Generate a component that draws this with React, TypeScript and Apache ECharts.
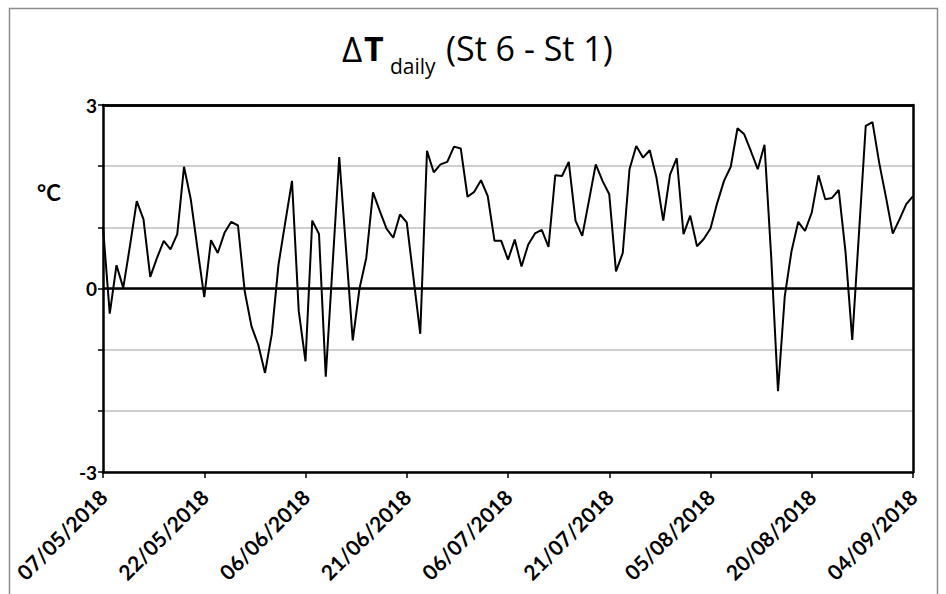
import React, { useEffect, useRef } from "react";
import * as echarts from "echarts";

// Daily temperature difference ΔT (St 6 - St 1), °C, from 07/05/2018 to 04/09/2018
const startDay = "2018-05-07";
const mayValues = [1.0, -0.41, 0.38, 0.01, 0.7, 1.43, 1.13, 0.19, 0.5, 0.78, 0.64, 0.89, 1.99, 1.46, 0.65, -0.14, 0.79, 0.58, 0.91, 1.09, 1.03, -0.05, -0.62, -0.92, -1.38];
const juneValues = [-0.75, 0.39, 1.08, 1.76, -0.37, -1.19, 1.11, 0.89, -1.44, 0.36, 2.15, 0.65, -0.85, 0.0, 0.5, 1.57, 1.27, 0.98, 0.83, 1.21, 1.08, 0.17, -0.74, 2.25, 1.9, 2.03, 2.07, 2.32, 2.29, 1.5];
const julyValues = [1.58, 1.77, 1.51, 0.78, 0.78, 0.47, 0.8, 0.36, 0.72, 0.9, 0.96, 0.68, 1.85, 1.84, 2.07, 1.11, 0.86, 1.44, 2.03, 1.76, 1.54, 0.28, 0.58, 1.95, 2.33, 2.14, 2.26, 1.81, 1.11, 1.86, 2.13];
const augustValues = [0.89, 1.19, 0.69, 0.81, 0.98, 1.4, 1.76, 1.99, 2.62, 2.52, 2.24, 1.95, 2.35, 0.5, -1.68, -0.13, 0.61, 1.09, 0.94, 1.24, 1.85, 1.46, 1.48, 1.61, 0.6, -0.84, 0.91, 2.66, 2.72, 2.05, 1.49];
const septemberValues = [0.9, 1.13, 1.38, 1.51];
const yTickLabels = [-3, 0, 3];
const labelEveryDays = 15;

const values = [...mayValues, ...juneValues, ...julyValues, ...augustValues, ...septemberValues];

function buildDates(start: string, n: number): string[] {
  const t0 = Date.parse(start + "T00:00:00Z");
  const out: string[] = [];
  for (let i = 0; i < n; i++) {
    const d = new Date(t0 + i * 86400000);
    const dd = String(d.getUTCDate()).padStart(2, "0");
    const mm = String(d.getUTCMonth() + 1).padStart(2, "0");
    out.push(`${dd}/${mm}/${d.getUTCFullYear()}`);
  }
  return out;
}
const dates = buildDates(startDay, values.length);

const FONT = "Lato, 'Open Sans', sans-serif";
const TFONT = "'Open Sans', Lato, sans-serif";

export default function App() {
  const ref = useRef<HTMLDivElement>(null);
  useEffect(() => {
    if (!ref.current) return;
    const chart = echarts.init(ref.current, undefined, { renderer: "svg" });
    chart.setOption({
      animation: false,
      backgroundColor: "#ffffff",
      textStyle: { fontFamily: FONT },
      grid: { left: 103, right: 33, top: 105, bottom: 122, containLabel: false },
      graphic: [
        {
          type: "rect",
          shape: { x: 9.5, y: 8.5, width: 928, height: 620 },
          style: { fill: "none", stroke: "#8c8c8c", lineWidth: 1.5 },
          silent: true,
        },
        {
          type: "text",
          left: 342, top: 31,
          style: { text: "Δ", font: `normal 35px ${TFONT}`, fill: "#000" },
        },
        {
          type: "text",
          left: 364, top: 31,
          style: { text: "T", font: `bold 34px ${TFONT}`, fill: "#000" },
        },
        {
          type: "text",
          left: 390, top: 55,
          style: { text: "daily", font: `normal 21px ${TFONT}`, fill: "#000" },
        },
        {
          type: "text",
          left: 446, top: 31,
          style: { text: "(St 6 - St 1)", font: `normal 34px ${TFONT}`, fill: "#000" },
        },
        {
          type: "text",
          left: 37, top: 181,
          style: { text: "°C", font: `bold 22px ${FONT}`, fill: "#000" },
        },
      ],
      xAxis: [
        {
          type: "category",
          data: dates,
          boundaryGap: false,
          position: "bottom",
          axisLine: { show: true, onZero: false, lineStyle: { color: "#000", width: 2.5 } },
          axisTick: { show: true, interval: labelEveryDays - 1, length: 6, lineStyle: { color: "#000", width: 1.5 } },
          axisLabel: {
            interval: labelEveryDays - 1,
            rotate: 45,
            margin: 21,
            fontWeight: "bold",
            fontSize: 21,
            color: "#000",
            fontFamily: FONT,
          },
          splitLine: { show: false },
        },
        {
          type: "category",
          data: dates,
          boundaryGap: false,
          position: "top",
          axisLine: { show: true, onZero: false, lineStyle: { color: "#000", width: 2.5 } },
          axisTick: { show: false },
          axisLabel: { show: false },
          splitLine: { show: false },
        },
      ],
      yAxis: [
        {
          type: "value",
          min: -3,
          max: 3,
          interval: 1,
          axisLine: { show: true, onZero: false, lineStyle: { color: "#000", width: 2.5 } },
          axisTick: { show: true, length: 5, lineStyle: { color: "#000", width: 1.5 } },
          axisLabel: {
            margin: 6,
            fontWeight: "bold",
            fontSize: 19,
            color: "#000",
            fontFamily: FONT,
            formatter: (v: number) => (yTickLabels.includes(v) ? String(v) : ""),
          },
          splitLine: { show: true, lineStyle: { color: "#bfbfbf", width: 1.5 } },
        },
        {
          type: "value",
          min: -3,
          max: 3,
          interval: 1,
          position: "right",
          axisLine: { show: true, onZero: false, lineStyle: { color: "#000", width: 2.5 } },
          axisTick: { show: false },
          axisLabel: { show: false },
          splitLine: { show: false },
        },
      ],
      series: [
        {
          type: "line",
          data: values,
          xAxisIndex: 0,
          yAxisIndex: 0,
          showSymbol: false,
          symbol: "none",
          lineStyle: { color: "#000", width: 2 },
          z: 5,
          markLine: {
            silent: true,
            symbol: "none",
            label: { show: false },
            lineStyle: { color: "#000", width: 2.5, type: "solid" },
            data: [{ yAxis: 0 }, { yAxis: 3 }],
            z: 4,
          },
        },
      ],
    });
    return () => chart.dispose();
  }, []);
  return (
    <div
      ref={ref}
      style={{ position: "fixed", left: 0, top: 0, width: 946, height: 594 }}
    />
  );
}
